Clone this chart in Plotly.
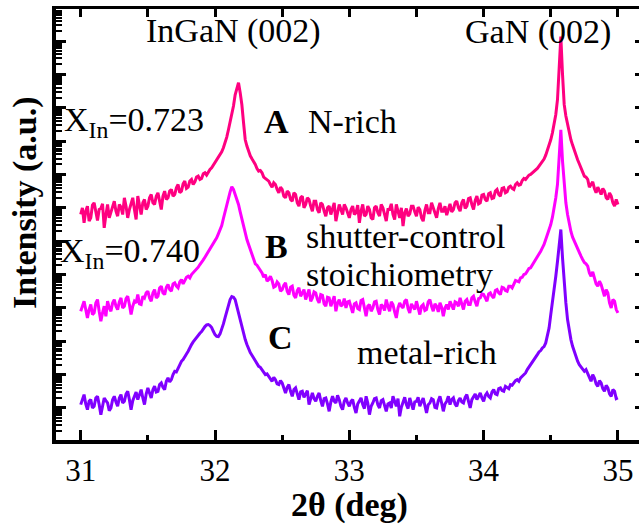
import numpy as np
import plotly.graph_objects as go

# 2θ scan: 31.0000° to 35.0000° in 0.0125° steps
SCAN_START, SCAN_STOP, SCAN_STEP = 31.0, 35.0, 0.0125
two_theta = np.round(np.arange(SCAN_START, SCAN_STOP + SCAN_STEP / 2, SCAN_STEP), 4)

# log10 of the stacked diffracted intensity (a.u.) for each sample
log_int_a = [
    6.80, 7.00, 6.55, 6.90, 7.05, 6.60, 6.70, 7.08, 7.15, 6.85, 6.62, 6.95, 6.98, 7.12, 6.40, 6.78, 7.10, 6.70, 6.85, 7.05,
    7.20, 6.90, 6.75, 7.10, 7.02, 6.80, 7.30, 7.05, 6.70, 6.95, 7.15, 7.30, 6.95, 6.65, 7.35, 7.10, 6.80, 7.15, 7.25, 6.95,
    7.05, 7.30, 7.40, 7.15, 7.10, 7.35, 7.45, 7.20, 6.95, 7.35, 7.50, 7.25, 7.30, 7.50, 7.55, 7.35,
    7.40, 7.60, 7.70, 7.45, 7.50, 7.72, 7.80, 7.58, 7.62, 7.80, 7.85, 7.70,
    7.78, 7.92, 7.95, 7.85, 7.88, 8.02, 8.05, 7.98, 8.08, 8.15,
    8.20, 8.28, 8.35, 8.42, 8.50, 8.58, 8.68, 8.80, 8.95, 9.12, 9.34, 9.55, 9.79, 10.05, 10.39, 10.62, 10.75, 10.45, 10.09, 9.55,
    9.04, 8.85, 8.68, 8.56, 8.47, 8.40, 8.30, 8.18, 8.10, 8.12, 8.05, 7.92, 7.88, 7.86, 7.80, 7.70, 7.62, 7.75, 7.70, 7.55, 7.45, 7.62,
    7.55, 7.35, 7.30, 7.50, 7.45, 7.25, 7.20, 7.45, 7.40, 7.15, 7.05, 7.30, 7.35, 7.00, 7.10, 7.30, 7.25, 7.05, 6.90, 7.20,
    7.20, 6.95, 6.85, 7.15, 7.10, 6.90, 6.75, 7.00, 7.05, 6.80, 6.95, 7.15, 6.60, 6.90, 7.10, 6.95, 6.80, 7.10, 7.00, 6.85,
    6.70, 6.95, 7.05, 6.80, 6.85, 7.08, 6.55, 6.90, 7.10, 6.75, 6.80, 7.05, 6.95, 6.70, 6.65, 7.00, 7.05, 6.85, 6.75, 7.10,
    7.00, 6.80, 6.60, 6.95, 6.95, 7.12, 6.80, 6.65, 7.10, 6.90, 6.70, 7.00, 6.45, 6.85, 6.98, 6.75, 6.82, 7.05, 7.05, 6.88,
    6.75, 7.02, 6.95, 6.70, 6.60, 6.92, 7.10, 6.85, 6.85, 7.15, 7.00, 6.78, 6.70, 6.98, 7.15, 6.90, 6.90, 7.05, 6.78, 6.95, 7.12, 6.88, 6.95, 7.15,
    7.20, 7.00, 6.90, 7.15, 7.25, 6.98, 7.05, 7.28, 7.30, 7.10, 6.95, 7.22, 7.35, 7.12, 7.15, 7.38,
    7.40, 7.25, 7.20, 7.42, 7.45, 7.28, 7.30, 7.50, 7.55, 7.40, 7.35, 7.58, 7.60, 7.45, 7.48, 7.62,
    7.65, 7.58, 7.55, 7.70, 7.75, 7.68, 7.70, 7.82,
    7.88, 7.85, 7.92, 7.98, 8.00, 8.04, 8.10, 8.14, 8.18, 8.25, 8.32, 8.38, 8.46, 8.58, 8.72, 8.88, 9.04, 9.25, 9.49, 9.80, 10.24, 11.20,
    12.13, 11.00,
    10.10, 9.75, 9.49, 9.25, 9.04, 8.88, 8.72, 8.58, 8.44, 8.32, 8.20, 8.05, 7.95, 7.92,
    7.85, 7.62, 7.70, 7.78, 7.58, 7.45, 7.62, 7.50, 7.40, 7.58, 7.50, 7.30, 7.25, 7.45, 7.35, 7.15, 7.05, 7.25, 7.10,
]

log_int_b = [
    3.90, 4.05, 4.20, 3.95, 3.70, 3.95, 4.10, 3.80, 3.85, 4.15, 4.25, 3.90, 3.60, 3.85, 4.05, 3.75, 4.20, 4.00, 3.90, 4.15,
    4.25, 4.05, 3.95, 4.18, 4.30, 4.00, 4.05, 4.28, 4.35, 4.10, 3.80, 4.05, 4.20, 4.15, 4.40, 4.12, 4.10, 4.35, 4.30, 4.45,
    4.50, 4.30, 4.20, 4.45, 4.55, 4.30, 4.35, 4.60, 4.65, 4.45, 4.40, 4.62, 4.70, 4.55, 4.50, 4.72,
    4.75, 4.65, 4.60, 4.78, 4.85, 4.72, 4.80, 4.92, 4.95, 4.90, 5.00, 5.05,
    5.09, 5.15, 5.22, 5.30, 5.36, 5.44, 5.52, 5.60, 5.69, 5.76,
    5.84, 5.92, 5.99, 6.10, 6.22, 6.34, 6.47, 6.68, 6.89, 7.08, 7.25, 7.48, 7.63, 7.55, 7.40, 7.25, 7.10, 6.88, 6.65, 6.42, 6.20, 6.05,
    5.90, 5.75, 5.62, 5.45, 5.32, 5.28, 5.20, 5.10, 5.05, 4.92, 5.00, 4.80, 4.85, 4.95, 4.82, 4.62, 4.65, 4.78, 4.72, 4.50,
    4.55, 4.68, 4.75, 4.50, 4.40, 4.62, 4.65, 4.38, 4.30, 4.52, 4.60, 4.35, 4.45, 4.55, 4.25, 4.42, 4.55, 4.20, 4.30, 4.48,
    4.45, 4.25, 4.15, 4.40, 4.38, 4.12, 4.05, 4.32, 4.30, 4.05, 4.20, 4.35, 3.90, 4.15, 4.25, 4.05, 4.10, 4.28, 4.00, 4.18,
    4.20, 4.02, 3.85, 4.12, 4.15, 3.98, 3.95, 4.22, 4.25, 4.00, 3.75, 4.05, 4.10, 3.90, 4.00, 4.18, 4.20, 3.95, 3.80, 4.10,
    4.05, 3.92, 4.25, 4.05, 3.90, 4.18, 4.10, 3.88, 3.70, 4.00, 4.15, 4.05, 4.00, 4.20, 4.25, 3.98, 3.85, 4.12, 4.05, 3.95,
    4.20, 4.00, 3.80, 4.05, 4.10, 3.92, 3.95, 4.18, 4.25, 4.05, 3.90, 4.12, 4.05, 3.88, 4.15, 4.02, 3.75, 4.00, 4.10, 3.95, 4.20, 4.08, 3.95, 4.18,
    4.15, 4.05, 4.30, 4.12, 3.95, 4.20, 4.25, 4.10, 4.10, 4.30, 4.35, 4.18, 4.05, 4.28, 4.30, 4.42,
    4.40, 4.30, 4.20, 4.42, 4.45, 4.35, 4.30, 4.52, 4.55, 4.45, 4.40, 4.62, 4.60, 4.52, 4.50, 4.65,
    4.65, 4.60, 4.70, 4.82, 4.80, 4.78, 4.90, 4.92,
    5.00, 5.02, 5.10, 5.18, 5.20, 5.28, 5.35, 5.45, 5.51, 5.60, 5.70, 5.80, 5.90, 6.05, 6.20, 6.35, 6.50, 6.72, 7.00, 7.30, 7.70, 8.50,
    9.34, 8.40,
    7.60, 7.15, 6.80, 6.50, 6.29, 6.12, 6.00, 5.88, 5.75, 5.65, 5.55, 5.45, 5.36, 5.32,
    5.25, 5.05, 4.95, 5.08, 4.90, 4.72, 4.65, 4.80, 4.70, 4.50, 4.35, 4.55, 4.45, 4.15, 4.00, 4.25, 4.20, 3.95, 3.85,
]

log_int_c = [
    1.10, 1.28, 1.40, 1.12, 0.95, 1.20, 1.25, 1.00, 1.05, 1.30, 1.35, 1.10, 0.80, 1.05, 1.30, 1.22, 1.15, 0.92, 1.00, 1.25,
    1.35, 1.18, 1.05, 1.30, 1.40, 1.15, 1.20, 1.42, 1.50, 1.25, 0.95, 1.22, 1.35, 1.48, 1.25, 1.40, 1.55, 1.30, 1.10, 1.42,
    1.60, 1.45, 1.30, 1.55, 1.65, 1.48, 1.50, 1.70, 1.75, 1.62, 1.55, 1.80, 1.90, 1.78, 1.85, 2.00,
    2.10, 2.08, 2.20, 2.32, 2.40, 2.45, 2.55, 2.62, 2.70, 2.82, 2.90, 2.98,
    3.05, 3.12, 3.18, 3.24, 3.29, 3.38, 3.44, 3.49, 3.50, 3.47,
    3.41, 3.30, 3.20, 3.15, 3.14, 3.22, 3.35, 3.52, 3.71, 3.92, 4.10, 4.25, 4.34, 4.32, 4.25, 4.05, 3.80, 3.60, 3.41, 3.22, 3.05, 2.90,
    2.75, 2.66, 2.58, 2.50, 2.42, 2.32, 2.25, 2.22, 2.15, 2.05, 2.00, 2.02, 1.95, 1.85, 1.80, 1.92, 1.85, 1.72, 1.70, 1.82,
    1.75, 1.60, 1.45, 1.62, 1.70, 1.50, 1.35, 1.55, 1.60, 1.42, 1.25, 1.48, 1.50, 1.32, 1.40, 1.52, 1.10, 1.30, 1.45, 1.28,
    1.20, 1.35, 1.45, 1.22, 1.05, 1.28, 1.30, 1.12, 0.90, 1.18, 1.35, 1.20, 1.15, 1.38, 1.25, 1.05, 0.95, 1.20, 1.30, 1.15,
    1.05, 1.20, 1.25, 1.02, 0.85, 1.12, 1.20, 1.30, 1.10, 0.98, 1.35, 1.15, 0.80, 1.05, 1.15, 1.28, 1.30, 1.10, 1.00, 1.22,
    1.25, 1.08, 0.90, 1.12, 1.15, 1.00, 1.35, 1.20, 1.05, 1.28, 0.75, 1.02, 1.20, 1.32, 1.10, 0.98, 1.30, 1.15, 0.95, 1.18,
    1.20, 1.32, 1.05, 1.18, 1.30, 1.08, 0.85, 1.10, 1.15, 1.28, 1.25, 1.02, 1.00, 1.22, 1.35, 1.15, 0.90, 1.12, 1.20, 1.35, 1.10, 1.25, 1.30, 1.12,
    1.05, 1.22, 1.30, 1.18, 1.15, 1.32, 1.40, 1.20, 1.00, 1.25, 1.35, 1.42, 1.25, 1.38, 1.45, 1.30,
    1.20, 1.38, 1.45, 1.35, 1.30, 1.48, 1.55, 1.42, 1.40, 1.58, 1.60, 1.52, 1.50, 1.65, 1.62, 1.58,
    1.70, 1.68, 1.75, 1.82, 1.85, 1.80, 1.90, 1.96,
    2.00, 2.05, 2.15, 2.22, 2.31, 2.38, 2.45, 2.52, 2.60, 2.68, 2.72, 2.80, 2.84, 2.95, 3.14, 3.40, 3.80, 4.15, 4.55, 4.95, 5.39, 5.90,
    6.35, 5.50,
    4.70, 4.15, 3.65, 3.32, 3.05, 2.85, 2.69, 2.55, 2.40, 2.30, 2.22, 2.15, 2.10, 2.15,
    2.05, 1.92, 1.80, 2.00, 1.90, 1.72, 1.65, 1.82, 1.75, 1.58, 1.50, 1.68, 1.60, 1.42, 1.35, 1.55, 1.50, 1.28, 1.30,
]

series = [
    ("A  N-rich", log_int_a, "#FF0080"),
    ("B  shutter-control stoichiometry", log_int_b, "#FF00FF"),
    ("C  metal-rich", log_int_c, "#8000FF"),
]

x_ticks = [31, 32, 33, 34, 35]
x_range = [30.816, 35.157]
y_range_log = [0.04, 12.96]

SERIF = "Times New Roman, Liberation Serif, serif"

fig = go.Figure()
for i, (name, vals, color) in enumerate(series):
    assert len(vals) == len(two_theta), (name, len(vals), len(two_theta))
    on_top_axes = i == 2
    fig.add_trace(go.Scatter(
        x=two_theta,
        y=np.power(10.0, np.array(vals)),
        mode="lines",
        name=name,
        line=dict(color=color, width=3),
        xaxis="x2" if on_top_axes else "x",
        yaxis="y2" if on_top_axes else "y",
        showlegend=False,
    ))

fig.update_layout(
    width=639, height=525,
    margin=dict(l=56, r=0, t=9, b=85),
    paper_bgcolor="white", plot_bgcolor="white",
    font=dict(family=SERIF, color="black", size=32),
    xaxis=dict(
        range=x_range, tickvals=x_ticks, ticktext=[str(t) for t in x_ticks],
        ticks="inside", ticklen=10, tickwidth=3, tickcolor="black",
        showline=True, linewidth=4, linecolor="black",
        showgrid=False, zeroline=False,
        tickfont=dict(family=SERIF, size=31, color="black"),
        minor=dict(ticks="inside", ticklen=5, tickwidth=3, tickcolor="black",
                   dtick=0.5, tick0=31, showgrid=False),
    ),
    xaxis2=dict(
        overlaying="x", side="top", anchor="y", range=x_range,
        ticks="inside", ticklen=8, tickwidth=3, tickcolor="black",
        dtick=0.5, tick0=31, showticklabels=False,
        showline=True, linewidth=3, linecolor="black",
        showgrid=False, zeroline=False,
    ),
    yaxis=dict(
        type="log", range=y_range_log, dtick=1,
        ticks="inside", ticklen=10, tickwidth=3, tickcolor="black",
        showticklabels=False,
        showline=True, linewidth=4, linecolor="black",
        showgrid=False, zeroline=False,
        minor=dict(ticks="inside", ticklen=6, tickwidth=2, tickcolor="black",
                   dtick="D1", showgrid=False),
    ),
    yaxis2=dict(
        type="log", range=y_range_log, overlaying="y", side="right", anchor="x",
        tickvals=[10.0 ** k for k in range(1, 13)],
        ticks="inside", ticklen=4, tickwidth=3, tickcolor="black",
        showticklabels=False, showline=False,
        showgrid=False, zeroline=False,
    ),
)

W, H = 583.0, 431.0
L0, T0 = 56.0, 9.0


def px(xp, yp):
    return (xp - L0) / W, (T0 + H - yp) / H


def label(text, xp, yp, size=34, xanchor="left", angle=0):
    xr, yr = px(xp, yp)
    fig.add_annotation(
        text=text, x=xr, y=yr, xref="paper", yref="paper",
        xanchor=xanchor, yanchor="middle", showarrow=False, textangle=angle,
        font=dict(family=SERIF, size=size, color="black"),
    )


label("InGaN (002)", 233, 31, xanchor="center")
label("GaN (002)", 538, 32, xanchor="center")
label("X<sub>In</sub>=0.723", 62, 122)
label("X<sub>In</sub>=0.740", 58, 253)
label("<b>A</b>", 276, 122, xanchor="center")
label("N-rich", 306, 122)
label("<b>B</b>", 276, 246, xanchor="center")
label("shutter-control", 304, 236)
label("stoichiometry", 304, 274)
label("<b>C</b>", 280, 337, xanchor="center")
label("metal-rich", 355, 352)
label("<b>2θ (deg)</b>", 349, 505, size=34, xanchor="center")
label("<b>Intensity (a.u.)</b>", 25, 203, size=34, xanchor="center", angle=-90)

fig.write_html("out.html")
